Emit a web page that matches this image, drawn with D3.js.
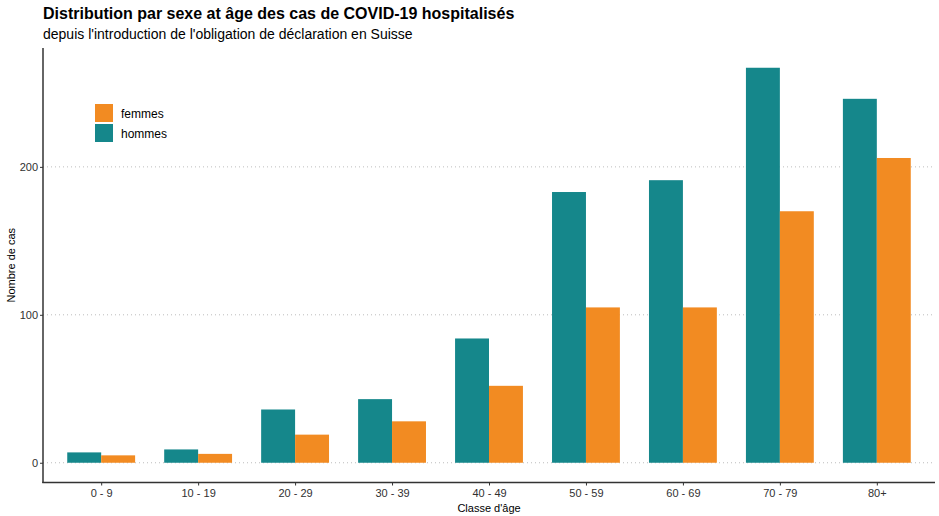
<!DOCTYPE html>
<html lang="fr">
<head>
<meta charset="utf-8">
<title>Distribution par sexe</title>
<script src="https://d3js.org/d3.v7.min.js"></script>
<style>
  body { margin: 0; background: #fff; font-family: "Liberation Sans", Arial, sans-serif; }
  svg text { font-family: "Liberation Sans", Arial, sans-serif; }
</style>
</head>
<body>
<script>
// age classes and counts per sex
var ageClasses = ["0 - 9", "10 - 19", "20 - 29", "30 - 39", "40 - 49", "50 - 59", "60 - 69", "70 - 79", "80+"];
var hommes = [7, 9, 36, 43, 84, 183, 191, 267, 246];
var femmes = [5, 6, 19, 28, 52, 105, 105, 170, 206];
var sexes = ["hommes", "femmes"];
var legendOrder = ["femmes", "hommes"];
var yTicks = [0, 100, 200];

var colours = { hommes: "#15878b", femmes: "#f28b22" };

var w = 939, h = 516;
// panel edges (don't use "top" - it's a window global)
var pLeft = 43, pRight = 935, pTop = 48, pBottom = 482.5;

var svg = d3.select("body").append("svg")
  .attr("width", w)
  .attr("height", h);

var rows = ageClasses.map(function (a, i) {
  return { age: a, hommes: hommes[i], femmes: femmes[i] };
});

// ggplot-like expansion on both axes
var step = (pRight - pLeft) / (ageClasses.length - 1 + 1.2);
var xScale = d3.scalePoint().domain(ageClasses)
  .range([pLeft + 0.6 * step, pRight - 0.6 * step]);
var barW = step * 0.35;

var yMax = d3.max(hommes.concat(femmes));
var yScale = d3.scaleLinear()
  .domain([-yMax * 0.05, yMax * 1.05])
  .range([pBottom, pTop]);

// grid
svg.append("g").selectAll("line")
  .data(yTicks).enter().append("line")
  .attr("x1", pLeft).attr("x2", pRight)
  .attr("y1", function (d) { return yScale(d); })
  .attr("y2", function (d) { return yScale(d); })
  .style("stroke", "#bdbdbd")
  .style("stroke-width", 1)
  .style("stroke-dasharray", "1, 3");

// bars
var groups = svg.append("g").selectAll("g")
  .data(rows).enter().append("g");

groups.selectAll("rect")
  .data(function (d) { return sexes.map(function (s) { return { sex: s, age: d.age, value: d[s] }; }); })
  .enter().append("rect")
  .attr("x", function (d, i) { return xScale(d.age) - barW + i * barW; })
  .attr("width", barW)
  .attr("y", function (d) { return yScale(d.value); })
  .attr("height", function (d) { return yScale(0) - yScale(d.value); })
  .attr("fill", function (d) { return colours[d.sex]; });

// axes
var yAxis = d3.axisLeft(yScale).tickValues(yTicks).tickSize(3).tickPadding(2);
var xAxis = d3.axisBottom(xScale).tickSize(3).tickPadding(4);

var gy = svg.append("g")
  .attr("transform", "translate(" + pLeft + ",0)")
  .call(yAxis);
gy.select(".domain").remove();
gy.append("line")
  .attr("x1", 0).attr("x2", 0).attr("y1", pTop).attr("y2", pBottom + 0.5)
  .style("stroke", "#333").style("stroke-width", 1.5);

var gx = svg.append("g")
  .attr("transform", "translate(0," + pBottom + ")")
  .call(xAxis);
gx.select(".domain").remove();
gx.append("line")
  .attr("x1", pLeft - 0.75).attr("x2", pRight).attr("y1", 0).attr("y2", 0)
  .style("stroke", "#333").style("stroke-width", 1.5);

svg.selectAll(".tick line").style("stroke", "#333");
svg.selectAll(".tick text").style("font-size", "11px").style("fill", "#303030");

// axis titles
svg.append("text")
  .attr("text-anchor", "middle")
  .attr("x", (pLeft + pRight) / 2)
  .attr("y", 512)
  .style("font-size", "11px")
  .text("Classe d'âge");

svg.append("text")
  .attr("text-anchor", "middle")
  .attr("transform", "translate(15," + ((pTop + pBottom) / 2) + ")rotate(-90)")
  .style("font-size", "11px")
  .text("Nombre de cas");

// titles
svg.append("text")
  .attr("x", pLeft).attr("y", 19)
  .style("font-size", "16px")
  .style("font-weight", "bold")
  .text("Distribution par sexe at âge des cas de COVID-19 hospitalisés");

svg.append("text")
  .attr("x", pLeft).attr("y", 39)
  .style("font-size", "14px")
  .text("depuis l'introduction de l'obligation de déclaration en Suisse");

// legend
var legend = svg.append("g").attr("transform", "translate(95,104)");
var items = legend.selectAll("g").data(legendOrder).enter().append("g")
  .attr("transform", function (d, i) { return "translate(0," + (i * 20) + ")"; });
items.append("rect")
  .attr("width", 18).attr("height", 18)
  .attr("fill", function (d) { return colours[d]; });
items.append("text")
  .attr("x", 26).attr("y", 13.5)
  .style("font-size", "12px")
  .text(function (d) { return d; });
</script>
</body>
</html>
